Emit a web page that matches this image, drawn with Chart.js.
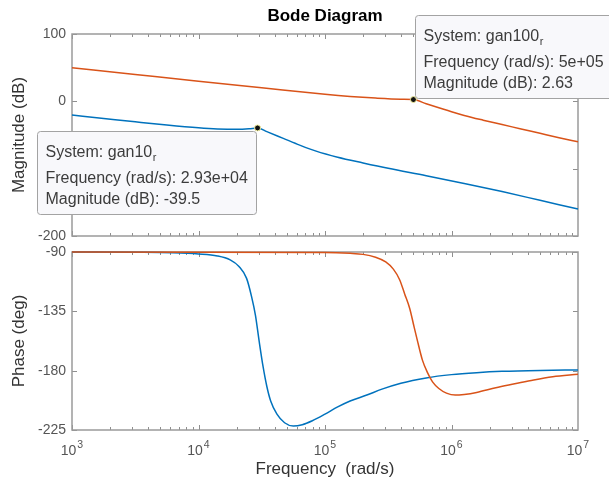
<!DOCTYPE html>
<html><head><meta charset="utf-8">
<script src="https://cdn.jsdelivr.net/npm/chart.js@4/dist/chart.umd.min.js"></script>
<style>
html,body{margin:0;padding:0;background:#fff;}
#wrap{position:relative;width:609px;height:485px;overflow:hidden;background:#fff;}
canvas{position:absolute;left:0;top:0;}
</style></head>
<body><div id="wrap"><canvas id="mag" width="609" height="485"></canvas><canvas id="ph" width="609" height="485"></canvas></div>
<script>
// ---------- data ----------
const freqMagOrange = [1e3, 3.16e3, 1e4, 3.16e4, 1e5, 1.58e5, 2.51e5, 3.98e5, 5e5, 6.31e5, 7.94e5, 1e6, 1.26e6, 1.78e6, 2.51e6, 3.55e6, 5.01e6, 7.08e6, 1e7];
const magOrange     = [50, 40, 30, 20.2, 10.4, 7.2, 4.8, 3.2, 2.63, -3.5, -9.5, -15.5, -21, -28, -34.5, -41, -47.5, -54, -60];

const freqMagBlue = [1e3, 1.78e3, 3.16e3, 5.62e3, 1e4, 1.41e4, 2e4, 2.51e4, 2.93e4, 3.47e4, 4.68e4, 6.31e4, 8.51e4, 1.26e5, 2e5, 3.16e5, 6.31e5, 1.26e6, 2.51e6, 5.01e6, 1e7];
const magBlue     = [-20.4, -25.4, -30.4, -35.2, -39.3, -41, -41.6, -40.8, -39.5, -45, -55, -65, -74, -83, -91.5, -99.5, -110.5, -122, -134, -147, -160];

const freqPhaseOrange = [1e3, 1e5, 1.58e5, 2e5, 2.51e5, 3.02e5, 3.47e5, 3.89e5, 4.27e5, 4.68e5, 5.01e5, 5.37e5, 5.89e5, 6.46e5, 7.08e5, 7.94e5, 9.12e5, 1.07e6, 1.26e6, 1.58e6, 2.24e6, 3.16e6, 4.47e6, 6.31e6, 1e7];
const phaseOrange     = [-90, -90.3, -91, -91.8, -94, -97.5, -103, -111, -122, -133, -145, -157, -172, -181.5, -188.5, -193.5, -197, -198.5, -198, -196.5, -193, -190, -187, -184.6, -182.7];

const freqPhaseBlue = [1e3, 3.16e3, 6.31e3, 1e4, 1.41e4, 1.78e4, 2.09e4, 2.4e4, 2.63e4, 2.82e4, 3.02e4, 3.24e4, 3.47e4, 3.72e4, 4.17e4, 4.79e4, 5.62e4, 6.61e4, 7.94e4, 1e5, 1.26e5, 1.58e5, 2.14e5, 2.82e5, 3.98e5, 6.31e5, 1e6, 1.58e6, 2.51e6, 5.01e6, 1e7];
const phaseBlue     = [-90, -90.2, -90.6, -91.5, -93, -96, -101, -110, -124, -138, -158, -177, -192, -203, -213, -219.5, -222, -221, -218, -213, -207.5, -203, -198.5, -194, -189.5, -185.5, -183, -181.5, -180.5, -179.8, -179.5];

// data tips
const tipSystem   = ['gan10', 'gan100'];
const tipFreq     = [2.93e4, 5e5];
const tipMag      = [-39.5, 2.63];
const tipFreqText = ['2.93e+04', '5e+05'];
const tipMagText  = ['-39.5', '2.63'];

// ticks
const xTickValues = [1e3, 1e4, 1e5, 1e6, 1e7];
const xTickBase   = ['10', '10', '10', '10', '10'];
const xTickExp    = ['3', '4', '5', '6', '7'];
const magTicks   = [100, 0, -100, -200];
const phaseTicks = [-90, -135, -180, -225];

// ---------- helpers ----------
const FONT = "'Liberation Sans', Arial, 'DejaVu Sans', sans-serif";
Chart.defaults.font.family = FONT;
const BLUE = '#0072BD', ORANGE = '#D95319';
const pts = (xs, ys) => xs.map((x, i) => ({x: x, y: ys[i]}));

const frame = {
  id: 'frame',
  beforeDatasetsDraw(chart) {
    const {ctx, chartArea: a, scales: {x, y}} = chart;
    ctx.save();
    ctx.strokeStyle = '#8f8f8f';
    ctx.lineWidth = 1;
    ctx.beginPath();
    y.ticks.forEach(t => {
      const py = Math.round(y.getPixelForValue(t.value)) + 0.5;
      ctx.moveTo(a.left, py); ctx.lineTo(a.left + 5, py);
      ctx.moveTo(a.right, py); ctx.lineTo(a.right - 5, py);
    });
    for (let e = 3; e < 7; e++) {
      for (let m = 1; m < 10; m++) {
        const px = Math.round(x.getPixelForValue(m * Math.pow(10, e))) + 0.5;
        const len = m === 1 ? 5 : 3;
        ctx.moveTo(px, a.top); ctx.lineTo(px, a.top + len);
        ctx.moveTo(px, a.bottom); ctx.lineTo(px, a.bottom - len);
      }
    }
    ctx.stroke();
    ctx.lineWidth = 1.5;
    ctx.strokeStyle = '#9a9a9a';
    ctx.strokeRect(a.left, a.top, a.right - a.left, a.bottom - a.top);
    ctx.restore();
  }
};

const titlePlugin = {
  id: 'bodeTitle',
  afterDraw(chart) {
    const {ctx, chartArea: a} = chart;
    ctx.save();
    ctx.font = 'bold 17px ' + FONT;
    ctx.fillStyle = '#000';
    ctx.textAlign = 'center';
    ctx.textBaseline = 'middle';
    ctx.fillText('Bode Diagram', (a.left + a.right) / 2, 16);
    ctx.restore();
  }
};

// power-of-ten tick labels with raised exponents
const powerLabels = {
  id: 'powerLabels',
  afterDraw(chart) {
    const {ctx, chartArea: a, scales: {x}} = chart;
    ctx.save();
    ctx.fillStyle = '#555';
    ctx.textBaseline = 'alphabetic';
    ctx.textAlign = 'left';
    xTickValues.forEach((v, i) => {
      const px = x.getPixelForValue(v);
      ctx.font = '14px ' + FONT;
      const wb = ctx.measureText(xTickBase[i]).width;
      ctx.font = '10.5px ' + FONT;
      const we = ctx.measureText(xTickExp[i]).width;
      const left = px - (wb + we + 1) / 2;
      ctx.font = '14px ' + FONT;
      ctx.fillText(xTickBase[i], left, a.bottom + 25);
      ctx.font = '10.5px ' + FONT;
      ctx.fillText(xTickExp[i], left + wb + 1, a.bottom + 18);
    });
    ctx.restore();
  }
};

const tips = {
  id: 'tips',
  beforeDatasetDraw(chart, args) {
    if (args.index !== 0) return;
    const {ctx, scales: {x, y}} = chart;
    ctx.save();
    tipFreq.forEach((f, i) => {
      const px = x.getPixelForValue(f), py = y.getPixelForValue(tipMag[i]);
      ctx.font = '16px ' + FONT;
      const l1 = 'System: ' + tipSystem[i];
      const l2 = 'Frequency (rad/s): ' + tipFreqText[i];
      const l3 = 'Magnitude (dB): ' + tipMagText[i];
      const w1 = ctx.measureText(l1).width;
      const w = Math.max(w1 + 7, ctx.measureText(l2).width, ctx.measureText(l3).width) + 17;
      const h = 83;
      let bx, by;
      if (i === 0) { bx = px - 1 - w; by = py + 3; }
      else { bx = px + 2; by = py - 2 - h; }
      bx = Math.round(bx) + 0.5; by = Math.round(by) + 0.5;
      ctx.beginPath();
      ctx.roundRect(bx, by, Math.round(w), h, 3);
      ctx.fillStyle = '#f8f8fb';
      ctx.fill();
      ctx.strokeStyle = '#a3a3a3';
      ctx.lineWidth = 1;
      ctx.stroke();
      ctx.fillStyle = '#3c3c3c';
      ctx.textBaseline = 'middle';
      ctx.textAlign = 'left';
      const tx = bx + 8;
      ctx.fillText(l1, tx, by + 21);
      ctx.fillText(l2, tx, by + 47.5);
      ctx.fillText(l3, tx, by + 68);
      ctx.font = '11px ' + FONT;
      ctx.fillText('r', tx + w1 + 0.5, by + 26);
    });
    ctx.restore();
  }
};

const lineDs = (data, color) => ({
  data, borderColor: color, borderWidth: 1.5, pointRadius: 0,
  cubicInterpolationMode: 'monotone', fill: false, clip: 3
});

const baseOpts = () => ({
  responsive: false, animation: false, events: [],
  plugins: {legend: {display: false}, tooltip: {enabled: false}, title: {display: false}},
});

// ---------- magnitude chart ----------
const magOpts = baseOpts();
magOpts.layout = {padding: {top: 34, left: 0, right: 31, bottom: 249}};
magOpts.scales = {
  x: {type: 'logarithmic', min: 1e3, max: 1e7, display: true,
      ticks: {display: false}, grid: {display: false, drawTicks: false}, border: {display: false},
      afterFit(s) { s.height = 0; }},
  y: {min: -200, max: 100,
      afterBuildTicks(s) { s.ticks = magTicks.map(v => ({value: v})); },
      ticks: {font: {size: 14}, color: '#555', padding: 6},
      grid: {display: false, drawTicks: false}, border: {display: false},
      title: {display: true, text: 'Magnitude (dB)', font: {size: 17}, color: '#333', padding: {top: 9, bottom: 0}},
      afterFit(s) { s.width = 72; }}
};
new Chart(document.getElementById('mag'), {
  type: 'line',
  data: {datasets: [
    {data: pts(tipFreq, tipMag), showLine: false, pointRadius: 3, pointBackgroundColor: '#111',
     pointBorderColor: '#f4f0a0', pointBorderWidth: 1, clip: false},
    lineDs(pts(freqMagOrange, magOrange), ORANGE),
    lineDs(pts(freqMagBlue, magBlue), BLUE)
  ]},
  options: magOpts,
  plugins: [frame, tips, titlePlugin]
});

// ---------- phase chart ----------
const phOpts = baseOpts();
phOpts.layout = {padding: {top: 252, left: 0, right: 31, bottom: 0}};
phOpts.scales = {
  x: {type: 'logarithmic', min: 1e3, max: 1e7,
      afterBuildTicks(s) { s.ticks = xTickValues.map(v => ({value: v})); },
      ticks: {display: false},
      grid: {display: false, drawTicks: false}, border: {display: false},
      title: {display: true, text: 'Frequency  (rad/s)', font: {size: 17}, color: '#333', padding: {top: 0, bottom: 5}},
      afterFit(s) { s.height = 55; }},
  y: {min: -225, max: -90,
      afterBuildTicks(s) { s.ticks = phaseTicks.map(v => ({value: v})); },
      ticks: {font: {size: 14}, color: '#555', padding: 6},
      grid: {display: false, drawTicks: false}, border: {display: false},
      title: {display: true, text: 'Phase (deg)', font: {size: 17}, color: '#333', padding: {top: 9, bottom: 0}},
      afterFit(s) { s.width = 72; }}
};
new Chart(document.getElementById('ph'), {
  type: 'line',
  data: {datasets: [
    lineDs(pts(freqPhaseOrange, phaseOrange), ORANGE),
    lineDs(pts(freqPhaseBlue, phaseBlue), BLUE)
  ]},
  options: phOpts,
  plugins: [frame, powerLabels]
});
</script>
</body></html>
